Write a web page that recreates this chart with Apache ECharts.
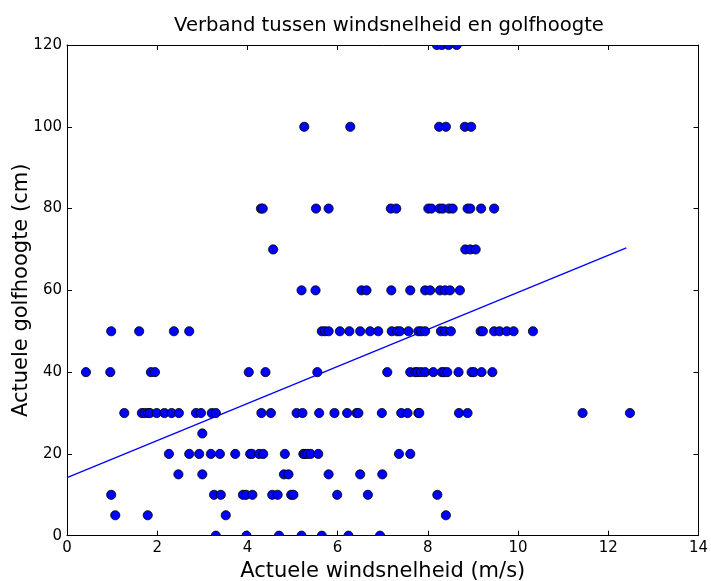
<!DOCTYPE html>
<html>
<head>
<meta charset="utf-8">
<script src="https://cdn.jsdelivr.net/npm/echarts@6/dist/echarts.min.js"></script>
<style>
  html, body { margin: 0; padding: 0; background: #ffffff; }
  #chart { width: 711px; height: 581px; }
</style>
</head>
<body>
<div id="chart"></div>
<script>
// Windsnelheid (m/s) per waargenomen golfhoogte (cm)
const golfhoogteNiveaus = [0, 5, 10, 15, 20, 25, 30, 40, 50, 60, 70, 80, 100, 120];
const wind0 = [3.30, 3.98, 4.70, 5.20, 5.65, 6.24, 6.94];
const wind5 = [1.07, 1.79, 3.52, 8.40];
const wind10 = [0.98, 3.26, 3.41, 3.90, 3.97, 4.11, 4.55, 4.67, 4.97, 5.02, 5.99, 6.67, 8.21];
const wind15 = [2.47, 3.00, 4.81, 4.91, 5.80, 6.50, 6.99];
const wind20 = [2.26, 2.71, 2.93, 3.19, 3.39, 3.73, 4.06, 4.10, 4.26, 4.35, 4.83, 5.24, 5.28, 5.33, 5.40, 5.57, 7.36, 7.61];
const wind25 = [3.00];
const wind30 = [1.27, 1.66, 1.72, 1.80, 1.84, 1.99, 2.16, 2.32, 2.48, 2.86, 2.97, 3.21, 3.30, 4.31, 4.52, 5.09, 5.22, 5.59, 5.93, 6.21, 6.42, 6.46, 6.98, 7.41, 7.55, 7.79, 7.81, 8.69, 8.88, 11.43, 12.48];
const wind40 = [0.42, 0.96, 1.86, 1.95, 4.03, 4.40, 5.55, 7.10, 7.61, 7.72, 7.77, 7.85, 7.94, 8.12, 8.31, 8.36, 8.43, 8.68, 8.97, 9.02, 9.19, 9.43];
const wind50 = [0.98, 1.60, 2.37, 2.71, 5.65, 5.72, 5.80, 6.05, 6.26, 6.50, 6.72, 6.90, 7.20, 7.32, 7.38, 7.57, 7.79, 7.85, 7.94, 8.29, 8.38, 8.51, 9.17, 9.22, 9.47, 9.59, 9.75, 9.90, 10.33];
const wind60 = [5.20, 5.51, 6.53, 6.64, 7.19, 7.61, 7.94, 8.05, 8.27, 8.38, 8.49, 8.71];
const wind70 = [4.57, 8.83, 8.94, 9.06];
const wind80 = [4.30, 4.34, 5.52, 5.80, 7.18, 7.30, 8.01, 8.08, 8.26, 8.33, 8.47, 8.55, 8.88, 8.94, 9.18, 9.47];
const wind100 = [5.26, 6.28, 8.25, 8.40, 8.82, 8.96];
const wind120 = [8.20, 8.31, 8.46, 8.64];

// Lineaire trendlijn (begin- en eindpunt)
const trendX = [0, 12.4];
const trendY = [14.2, 70.4];

// As-indeling
const xTicks = [0, 2, 4, 6, 8, 10, 12, 14];
const yTicks = [0, 20, 40, 60, 80, 100, 120];

const windPerNiveau = [wind0, wind5, wind10, wind15, wind20, wind25, wind30, wind40,
  wind50, wind60, wind70, wind80, wind100, wind120];

const punten = [];
golfhoogteNiveaus.forEach((h, i) => {
  windPerNiveau[i].forEach(w => punten.push([w, h]));
});
const trendData = trendX.map((x, i) => [x, trendY[i]]);

const FONT = 'DejaVu Sans';
const MARKER_R = 4.6;
const chart = echarts.init(document.getElementById('chart'));

const baseAxis = {
  type: 'value',
  axisLine: { show: true, onZero: false, lineStyle: { color: '#000', width: 1 } },
  axisTick: { show: true, inside: true, length: 5, lineStyle: { color: '#000', width: 1 } },
  splitLine: { show: false }
};

// Cirkels die op de rand van het assenvlak liggen worden afgesneden
function renderPunt(params, api) {
  const p = api.coord([api.value(0), api.value(1)]);
  return {
    type: 'circle',
    shape: { cx: p[0], cy: p[1], r: MARKER_R },
    style: { fill: '#0000ff', stroke: '#000', lineWidth: 0.8 }
  };
}

chart.setOption({
  animation: false,
  backgroundColor: '#ffffff',
  title: {
    text: 'Verband tussen windsnelheid en golfhoogte',
    left: 384, top: 11, textAlign: 'center',
    textStyle: { fontFamily: FONT, fontSize: 19.6, fontWeight: 'normal', color: '#000' }
  },
  grid: { left: 67, right: 12.5, top: 45, bottom: 45.3, outerBoundsMode: 'none', containLabel: false },
  xAxis: [
    Object.assign({}, baseAxis, {
      position: 'bottom', min: xTicks[0], max: xTicks[xTicks.length - 1], interval: 2,
      name: 'Actuele windsnelheid (m/s)', nameLocation: 'middle', nameGap: 25,
      nameMoveOverlap: false,
      nameTextStyle: { fontFamily: FONT, fontSize: 21, color: '#000' },
      axisLabel: { fontFamily: FONT, fontSize: 15, color: '#000', margin: 5 }
    }),
    Object.assign({}, baseAxis, {
      position: 'top', min: xTicks[0], max: xTicks[xTicks.length - 1], interval: 2,
      axisLabel: { show: false }
    })
  ],
  yAxis: [
    Object.assign({}, baseAxis, {
      position: 'left', min: yTicks[0], max: yTicks[yTicks.length - 1], interval: 20,
      name: 'Actuele golfhoogte (cm)', nameLocation: 'middle', nameGap: 35,
      nameMoveOverlap: false,
      nameTextStyle: { fontFamily: FONT, fontSize: 21, color: '#000' },
      axisLabel: { fontFamily: FONT, fontSize: 15, color: '#000', margin: 5 }
    }),
    Object.assign({}, baseAxis, {
      position: 'right', min: yTicks[0], max: yTicks[yTicks.length - 1], interval: 20,
      axisLabel: { show: false }
    })
  ],
  series: [
    {
      type: 'line',
      xAxisIndex: 0, yAxisIndex: 0,
      data: trendData,
      showSymbol: false,
      symbol: 'none',
      clip: true,
      lineStyle: { color: '#0000ff', width: 1.3 },
      z: 1
    },
    {
      type: 'custom',
      xAxisIndex: 0, yAxisIndex: 0,
      data: punten,
      clip: true,
      renderItem: renderPunt,
      z: 2
    }
  ]
});
</script>
</body>
</html>
